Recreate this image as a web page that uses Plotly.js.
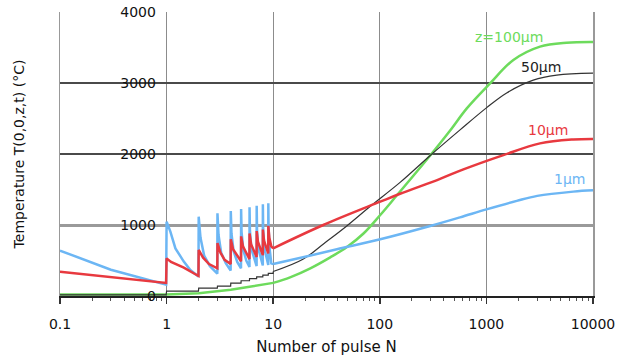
<!DOCTYPE html>
<html>
<head>
<meta charset="utf-8">
<script src="https://cdn.plot.ly/plotly-3.0.1.min.js"></script>
<style>html,body{margin:0;padding:0;background:#fff;}#chart{width:617px;height:356px;}</style>
</head>
<body>
<div id="chart"></div>
<script>
// ---- tick labels ----
var xTickVals = [0.1, 1, 10, 100, 1000, 10000];
var xTickText = ["0.1", "1", "10", "100", "1000", "10000"];
var yTickVals = [0, 1000, 2000, 3000, 4000];
var yTickText = ["0", "1000", "2000", "3000", "4000"];

// ---- series labels ----
var seriesNames = ["1μm", "10μm", "50μm", "z=100μm"];

// ---- 1 μm (pulse train part) ----
var n1a = [0.1, 0.3, 0.99, 1, 1.085, 1.21, 1.45, 1.67, 1.99,
  2, 2.08, 2.25, 2.55, 2.99,
  3, 3.07, 3.25, 3.6, 3.99,
  4, 4.06, 4.25, 4.6, 4.99,
  5, 5.05, 5.25, 5.6, 5.99,
  6, 6.05, 6.25, 6.99,
  7, 7.05, 7.25, 7.99,
  8, 8.05, 8.3, 8.99,
  9, 9.05, 9.3, 9.6, 10];
var t1a = [640, 370, 160, 1047, 906, 671, 484, 366, 275,
  1117, 820, 570, 420, 315,
  1164, 860, 610, 460, 360,
  1197, 880, 630, 480, 390,
  1225, 900, 645, 495, 410,
  1249, 920, 660, 422,
  1272, 935, 670, 430,
  1291, 945, 660, 437,
  1305, 955, 640, 460, 450];
// ---- 1 μm (smooth part) ----
var n1b = [10, 19, 39.6, 101, 297, 566, 1000, 1928, 3000, 6530, 10000];
var t1b = [450, 545, 658, 799, 986, 1108, 1220, 1340, 1410, 1470, 1488];

// ---- 10 μm (pulse train part) ----
var n2a = [0.1, 0.99, 1, 1.1, 1.45, 1.99,
  2, 2.2, 2.5, 2.99,
  3, 3.2, 3.5, 3.99,
  4, 4.2, 4.99,
  5, 5.2, 5.99,
  6, 6.2, 6.99,
  7, 7.2, 7.99,
  8, 8.2, 8.99,
  9, 9.2, 9.6, 10];
var t2a = [342, 185, 530, 480, 400, 282,
  648, 540, 450, 390,
  745, 610, 510, 450,
  800, 660, 490,
  840, 700, 520,
  880, 730, 550,
  915, 760, 575,
  935, 780, 600,
  988, 820, 700, 672];
// ---- 10 μm (smooth part) ----
var n2b = [10, 29.5, 101, 155, 368, 600, 1443, 3184, 6530, 10000];
var t2b = [672, 1000, 1328, 1440, 1650, 1780, 1985, 2150, 2205, 2212];

// ---- 50 μm (pulse train part) ----
var n3a = [0.1, 0.99, 1, 1.99, 2, 2.99, 3, 3.99, 4, 4.99, 5, 5.99, 6, 6.99, 7, 7.99, 8, 8.99, 9, 9.99, 10];
var t3a = [15, 15, 70, 70, 110, 110, 140, 140, 180, 180, 215, 215, 245, 245, 270, 270, 295, 295, 320, 320, 345];
// ---- 50 μm (smooth part) ----
var n3b = [10, 19, 30, 49, 81, 155, 297, 566, 1000, 1549, 2754, 4570, 10000];
var t3b = [345, 517, 740, 986, 1260, 1600, 1979, 2340, 2650, 2860, 3040, 3110, 3138];

// ---- 100 μm (early part) ----
var n4a = [0.1, 1, 2, 3, 4, 6, 7.6, 10];
var t4a = [20, 22, 40, 62, 88, 130, 155, 185];
// ---- 100 μm (smooth part) ----
var n4b = [10, 14.4, 22.3, 34.3, 49.2, 70.3, 101, 144, 297, 457, 655, 1083, 1791, 3184, 5650, 10000];
var t4b = [185, 263, 390, 545, 690, 880, 1141, 1415, 1979, 2331, 2643, 2995, 3324, 3512, 3568, 3578];

var cBlue = '#6cb6f4', cRed = '#e8393f', cBlack = '#333333', cGreen = '#6ddb5c';

function tr(x, y, color, w, shape, name) {
  return {x: x, y: y, type: 'scatter', mode: 'lines', name: name, showlegend: false,
    hoverinfo: 'skip',
    line: {color: color, width: w, shape: shape, smoothing: 1}};
}

var data = [
  tr(n4a, t4a, cGreen, 2.5, 'linear', seriesNames[3]),
  tr(n4b, t4b, cGreen, 2.5, 'spline', seriesNames[3]),
  tr(n3a, t3a, cBlack, 1.2, 'linear', seriesNames[2]),
  tr(n3b, t3b, cBlack, 1.2, 'spline', seriesNames[2]),
  tr(n1a, t1a, cBlue, 2.5, 'linear', seriesNames[0]),
  tr(n1b, t1b, cBlue, 2.5, 'spline', seriesNames[0]),
  tr(n2a, t2a, cRed, 2.5, 'linear', seriesNames[1]),
  tr(n2b, t2b, cRed, 2.5, 'spline', seriesNames[1]),
  {x: [], y: [], type: 'scatter', yaxis: 'y2', showlegend: false},
  {x: [], y: [], type: 'scatter', yaxis: 'y3', showlegend: false}
];

var fontFam = 'DejaVu Sans, sans-serif';

function lbl(i, x, y, color) {
  return {text: seriesNames[i], xref: 'paper', yref: 'paper', x: x, y: y,
    xanchor: 'center', yanchor: 'middle', showarrow: false,
    font: {family: fontFam, size: 14, color: color}};
}

var layout = {
  width: 617, height: 356,
  margin: {l: 60, r: 24, t: 12, b: 60},
  paper_bgcolor: '#ffffff', plot_bgcolor: '#ffffff',
  font: {family: fontFam, size: 14, color: '#222'},
  showlegend: false,
  xaxis: {
    type: 'log', range: [-1, 4],
    tickmode: 'array', tickvals: xTickVals, ticktext: xTickText,
    ticks: 'outside', ticklen: 6, tickwidth: 1.5, tickcolor: '#333',
    minor: {ticks: 'outside', ticklen: 3, tickwidth: 1, tickcolor: '#555', dtick: 'D1', showgrid: false},
    showgrid: true, gridcolor: '#8c8c8c', gridwidth: 1,
    showline: true, linecolor: '#222', linewidth: 2,
    zeroline: false,
    ticklabelstandoff: 8,
    tickfont: {family: fontFam, size: 14, color: '#111'},
    title: {text: 'Number of pulse N', font: {family: fontFam, size: 15, color: '#111'}, standoff: 12}
  },
  yaxis: {
    range: [0, 4000],
    tickmode: 'array', tickvals: [2000, 3000, 4000],
    showticklabels: false, ticks: '',
    showgrid: true, gridcolor: '#4a4a4a', gridwidth: 1.3,
    showline: true, linecolor: '#999', linewidth: 1.5, mirror: true,
    zeroline: false,
    title: {text: 'Temperature T(0,0,z,t) (°C)', font: {family: fontFam, size: 14, color: '#111'}, standoff: 30}
  },
  yaxis2: {
    overlaying: 'y', anchor: 'free', position: 0.18, side: 'left',
    range: [0, 4000],
    tickmode: 'array', tickvals: yTickVals, ticktext: yTickText,
    ticks: '', showgrid: false, zeroline: false, showline: false,
    tickfont: {family: fontFam, size: 14, color: '#111'}
  },
  yaxis3: {
    overlaying: 'y', anchor: 'x', side: 'left',
    range: [0, 4000],
    tickmode: 'array', tickvals: [1000],
    showticklabels: false, ticks: '',
    showgrid: true, gridcolor: '#9a9a9a', gridwidth: 3,
    zeroline: false, showline: false
  },
  annotations: [
    lbl(3, 0.842, 0.912, cGreen),
    lbl(2, 0.902, 0.806, '#222'),
    lbl(1, 0.916, 0.585, cRed),
    lbl(0, 0.955, 0.412, cBlue)
  ]
};

Plotly.newPlot('chart', data, layout, {displayModeBar: false, staticPlot: true});
</script>
</body>
</html>
